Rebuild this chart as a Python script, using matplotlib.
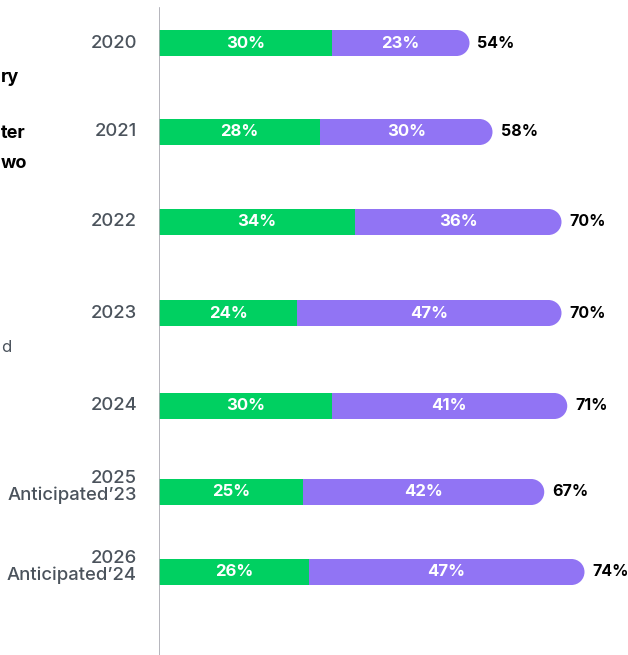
import matplotlib
matplotlib.use('Agg')
import matplotlib.pyplot as plt
from matplotlib.patches import Ellipse

plt.rcParams['font.family'] = ['Inter', 'DejaVu Sans']

# Data
years = ['2020', '2021', '2022', '2023', '2024', '2025\nAnticipated’23', '2026\nAnticipated’24']
green_vals = [30, 28, 34, 24, 30, 25, 26]
purple_vals = [23, 30, 36, 47, 41, 42, 47]
totals = [54, 58, 70, 70, 71, 67, 74]

GREEN = '#00d061'
PURPLE = '#9174f4'
GREY = '#4b535c'

W, H = 628, 655
fig = plt.figure(figsize=(W / 100, H / 100), dpi=100)
px_per_pct = 5.75
ax_left = 159
xmax = (W - ax_left) / px_per_pct
ax = fig.add_axes([ax_left / W, 0, (W - ax_left) / W, 1])

# row centres, pixels from top (layout)
row_px = [43, 132, 222, 313, 406, 492, 572]
ax.set_xlim(0, xmax)
ax.set_ylim(H, 0)

bar_h = 26
rx = 13 / px_per_pct

for y, yr, g, p, t in zip(row_px, years, green_vals, purple_vals, totals):
    # purple segment with rounded end
    ax.barh(y, t - rx - g, left=g, height=bar_h, color=PURPLE, linewidth=0)
    ax.add_patch(Ellipse((t - rx, y), 2 * rx, bar_h, color=PURPLE, linewidth=0))
    ax.barh(y, g, left=0, height=bar_h, color=GREEN, linewidth=0)
    ax.text(g / 2, y, f'{g}%', ha='center', va='center', color='white',
            fontsize=12, fontweight='bold')
    ax.text((g + t) / 2, y, f'{p}%', ha='center', va='center', color='white',
            fontsize=12, fontweight='bold')
    ax.text(t + 8 / px_per_pct, y, f'{t}%', ha='left', va='center', color='black',
            fontsize=11.5, fontweight='bold')
    two = '\n' in yr
    ax.text(-22 / px_per_pct, y - (5 if two else 0), yr,
            ha='right', va='center', color=GREY, fontsize=13.3,
            fontweight='medium', multialignment='right', linespacing=1.0,
            clip_on=False)

ax.axvline(0, ymin=0, ymax=1 - 8 / H, color='#a8a8b0', linewidth=1.2)
for s in ax.spines.values():
    s.set_visible(False)
ax.set_xticks([])
ax.set_yticks([])

# cut-off text fragments at left edge
fig.text(1 / W, 1 - 77 / H, 'ry', ha='left', va='center', fontsize=13, fontweight='bold')
fig.text(1 / W, 1 - 134 / H, 'ter', ha='left', va='center', fontsize=13, fontweight='bold')
fig.text(1 / W, 1 - 164 / H, 'wo', ha='left', va='center', fontsize=13, fontweight='bold')
fig.text(1 / W, 1 - 347 / H, 'd', ha='left', va='center', fontsize=12, color=GREY)

fig.savefig('out.png', dpi=100)
